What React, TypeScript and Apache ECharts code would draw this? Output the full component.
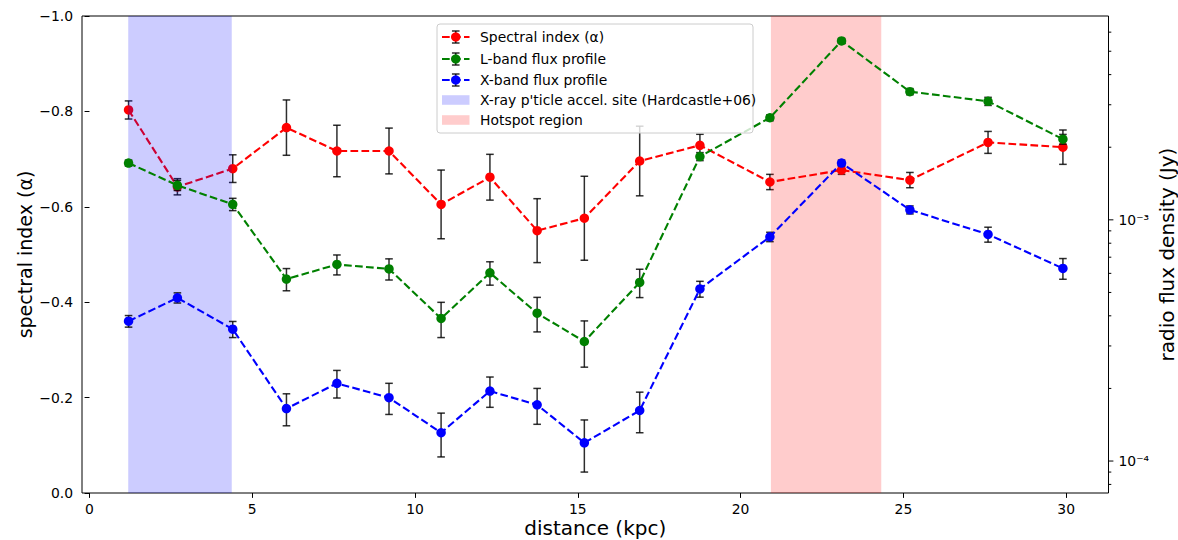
import React, { useEffect, useRef } from 'react';
import * as echarts from 'echarts';

// ---------------- data ----------------
const distance = [1.2, 2.7, 4.4, 6.05, 7.6, 9.2, 10.8, 12.3, 13.75, 15.2, 16.9, 18.75, 20.9, 23.1, 25.2, 27.6, 29.9];

const spectralIndex = [-0.803, -0.642, -0.680, -0.766, -0.717, -0.717, -0.605, -0.662, -0.550, -0.576, -0.696, -0.729, -0.652, -0.677, -0.656, -0.735, -0.725];
const spectralErr = [0.019, 0.017, 0.029, 0.058, 0.054, 0.048, 0.072, 0.048, 0.067, 0.088, 0.073, 0.023, 0.016, 0.009, 0.016, 0.023, 0.036];

const lBandFlux = [1.72e-3, 1.39e-3, 1.16e-3, 5.68e-4, 6.53e-4, 6.26e-4, 3.90e-4, 6.03e-4, 4.10e-4, 3.13e-4, 5.50e-4, 1.83e-3, 2.65e-3, 5.52e-3, 3.40e-3, 3.10e-3, 2.16e-3];
const lBandErr = [4.9e-5, 6.7e-5, 6.8e-5, 6.0e-5, 6.2e-5, 6.3e-5, 6.5e-5, 6.7e-5, 6.7e-5, 6.8e-5, 7.4e-5, 7.0e-5, 7.6e-5, 1.3e-4, 1.0e-4, 1.2e-4, 1.0e-4];

const xBandFlux = [3.80e-4, 4.75e-4, 3.52e-4, 1.65e-4, 2.10e-4, 1.83e-4, 1.31e-4, 1.95e-4, 1.71e-4, 1.19e-4, 1.62e-4, 5.17e-4, 8.50e-4, 1.72e-3, 1.10e-3, 8.70e-4, 6.29e-4];
const xBandErr = [2.1e-5, 2.3e-5, 2.7e-5, 2.5e-5, 2.75e-5, 2.7e-5, 2.7e-5, 2.8e-5, 2.9e-5, 2.9e-5, 3.1e-5, 3.9e-5, 3.8e-5, 4.9e-5, 4.2e-5, 6.2e-5, 6.2e-5];

const bandStart = [1.19, 20.93];
const bandEnd = [4.37, 24.32];

const xTicks = [0, 5, 10, 15, 20, 25, 30];
const fluxMajorTicks = [1e-4, 1e-3];
const fluxMinorTicks = [8e-5, 9e-5, 2e-4, 3e-4, 4e-4, 5e-4, 6e-4, 7e-4, 8e-4, 9e-4, 2e-3, 3e-3, 4e-3, 5e-3, 6e-3];

const legendLabels = [
  'Spectral index (α)',
  'L-band flux profile',
  'X-band flux profile',
  "X-ray p'ticle accel. site (Hardcastle+06)",
  'Hotspot region',
];

// ---------------- styles ----------------
const FONT = 'DejaVu Sans';
const seriesColors = ['#ff0000', '#008000', '#0000ff'];
const bandColors = ['rgba(0,0,255,0.2)', 'rgba(255,0,0,0.2)'];
const ERR_COLOR = 'rgba(0,0,0,0.82)';
const DASH = [7.7, 3.3];
const LINE_W = 2.1;
const MARKER = 9.5;

const SUP: Record<string, string> = { '-': '⁻', '0': '⁰', '1': '¹', '2': '²', '3': '³', '4': '⁴', '5': '⁵', '6': '⁶', '7': '⁷', '8': '⁸', '9': '⁹' };
const toSup = (s: string) => s.split('').map((c) => SUP[c] || c).join('');

function errRender(params: any, api: any) {
  const x = api.value(0);
  const y = api.value(1);
  const e = api.value(2);
  const p1 = api.coord([x, y - e]);
  const p2 = api.coord([x, y + e]);
  const cap = 3.8;
  const style = { stroke: ERR_COLOR, lineWidth: 1.5 };
  return {
    type: 'group',
    children: [
      { type: 'line', shape: { x1: p1[0], y1: p1[1], x2: p2[0], y2: p2[1] }, style },
      { type: 'line', shape: { x1: p1[0] - cap, y1: p1[1], x2: p1[0] + cap, y2: p1[1] }, style },
      { type: 'line', shape: { x1: p2[0] - cap, y1: p2[1], x2: p2[0] + cap, y2: p2[1] }, style },
    ],
  };
}

function tickRender(len: number) {
  return (params: any, api: any) => {
    const p = api.coord([0, api.value(1)]);
    const cs = params.coordSys;
    const x0 = cs.x + cs.width;
    return {
      type: 'line',
      shape: { x1: x0, y1: p[1], x2: x0 + len, y2: p[1] },
      style: { stroke: '#000', lineWidth: 1 },
    };
  };
}

function lineSeries(name: string, ys: number[], color: string, yAxisIndex: number, z: number) {
  return {
    name,
    type: 'line',
    xAxisIndex: 0,
    yAxisIndex,
    z,
    data: distance.map((x, i) => [x, ys[i]]),
    symbol: 'circle',
    symbolSize: MARKER,
    showAllSymbol: true,
    itemStyle: { color },
    lineStyle: { color, width: LINE_W, type: DASH },
    silent: true,
  };
}

function errSeries(ys: number[], es: number[], yAxisIndex: number, z: number) {
  return {
    type: 'custom',
    xAxisIndex: 0,
    yAxisIndex,
    z,
    silent: true,
    encode: { x: 0, y: 1 },
    data: distance.map((x, i) => [x, ys[i], es[i]]),
    renderItem: errRender,
  };
}

// ---------------- legend (graphic) ----------------
const LX = 437;
const LY = 24;
const LW = 316;
const LH = 109;
const rowY = [37, 59, 80, 100, 120];

function legendGraphic() {
  const els: any[] = [
    {
      type: 'rect',
      z: 100,
      shape: { x: LX, y: LY, width: LW, height: LH, r: 3 },
      style: { fill: 'rgba(255,255,255,0.8)', stroke: '#cccccc', lineWidth: 1 },
    },
  ];
  const hx0 = LX + 5;
  const hx1 = LX + 32.5;
  const hm = (hx0 + hx1) / 2;
  for (let i = 0; i < 3; i++) {
    const y = rowY[i];
    const c = seriesColors[i];
    els.push({ type: 'line', z: 101, shape: { x1: hx0, y1: y, x2: hx1, y2: y }, style: { stroke: c, lineWidth: LINE_W, lineDash: DASH } });
    els.push({ type: 'line', z: 101, shape: { x1: hm, y1: y - 6, x2: hm, y2: y + 6 }, style: { stroke: ERR_COLOR, lineWidth: 1.5 } });
    els.push({ type: 'line', z: 101, shape: { x1: hm - 3.8, y1: y - 6, x2: hm + 3.8, y2: y - 6 }, style: { stroke: ERR_COLOR, lineWidth: 1.5 } });
    els.push({ type: 'line', z: 101, shape: { x1: hm - 3.8, y1: y + 6, x2: hm + 3.8, y2: y + 6 }, style: { stroke: ERR_COLOR, lineWidth: 1.5 } });
    els.push({ type: 'circle', z: 102, shape: { cx: hm, cy: y, r: MARKER / 2 }, style: { fill: c } });
  }
  for (let j = 0; j < 2; j++) {
    const y = rowY[3 + j];
    els.push({ type: 'rect', z: 101, shape: { x: hx0, y: y - 4.8, width: hx1 - hx0, height: 9.6 }, style: { fill: bandColors[j] } });
  }
  for (let i = 0; i < legendLabels.length; i++) {
    els.push({
      type: 'text',
      z: 103,
      x: LX + 43,
      y: rowY[i],
      style: { text: legendLabels[i], font: `13.9px "${FONT}"`, fill: '#000', verticalAlign: 'middle', align: 'left' },
    });
  }
  return els;
}

// ---------------- option ----------------
const option: any = {
  animation: false,
  backgroundColor: '#ffffff',
  textStyle: { fontFamily: FONT },
  grid: {
    left: 82,
    right: 69.5,
    top: 16,
    bottom: 47,
    show: true,
    borderColor: '#000',
    borderWidth: 1,
    backgroundColor: 'transparent',
    containLabel: false,
    outerBoundsMode: 'none',
  },
  xAxis: [
    {
      type: 'value',
      min: -0.23,
      max: 31.3,
      name: 'distance (kpc)',
      nameLocation: 'middle',
      nameGap: 24,
      nameMoveOverlap: false,
      nameTextStyle: { fontFamily: FONT, fontSize: 20, color: '#000', lineHeight: 22 },
      axisLine: { show: false },
      splitLine: { show: false },
      axisTick: { show: true, length: 4.9, lineStyle: { color: '#000', width: 1 }, customValues: xTicks },
      axisLabel: { customValues: xTicks, margin: 9, fontFamily: FONT, fontSize: 13.9, color: '#000', formatter: (v: number) => String(v) },
    },
  ],
  yAxis: [
    {
      type: 'value',
      inverse: true,
      min: -1,
      max: 0,
      interval: 0.2,
      position: 'left',
      name: 'spectral index (α)',
      nameLocation: 'middle',
      nameRotate: 90,
      nameGap: 47,
      nameMoveOverlap: false,
      nameTextStyle: { fontFamily: FONT, fontSize: 19, color: '#000', lineHeight: 21 },
      axisLine: { show: false },
      splitLine: { show: false },
      axisTick: { show: true, length: 4.9, lineStyle: { color: '#000', width: 1 } },
      axisLabel: {
        margin: 9,
        fontFamily: FONT,
        fontSize: 13.9,
        color: '#000',
        formatter: (v: number) => (Math.abs(v) < 1e-9 ? '0.0' : '\u2212' + Math.abs(v).toFixed(1)),
      },
    },
    {
      type: 'log',
      logBase: 10,
      min: 7.37e-5,
      max: 7.0e-3,
      position: 'right',
      name: 'radio flux density (Jy)',
      nameLocation: 'middle',
      nameRotate: 90,
      nameGap: 47,
      nameMoveOverlap: false,
      nameTextStyle: { fontFamily: FONT, fontSize: 20, color: '#000', lineHeight: 22 },
      axisLine: { show: false },
      splitLine: { show: false },
      minorTick: { show: false },
      axisTick: { show: false },
      axisLabel: {
        margin: 10,
        fontFamily: FONT,
        fontSize: 13.9,
        color: '#000',
        showMinLabel: false,
        showMaxLabel: false,
        formatter: (v: number) => {
          const e = Math.log10(v);
          if (Math.abs(e - Math.round(e)) > 1e-6) return '';
          return '10' + toSup(String(Math.round(e)));
        },
      },
    },
  ],
  graphic: { elements: legendGraphic() },
  series: [
    errSeries(spectralIndex, spectralErr, 0, 2),
    lineSeries(legendLabels[0], spectralIndex, seriesColors[0], 0, 2),
    {
      type: 'custom',
      xAxisIndex: 0,
      yAxisIndex: 0,
      z: 3,
      silent: true,
      encode: { x: [0, 1], y: 2 },
      data: bandStart.map((s, i) => [s, bandEnd[i], -0.5]),
      renderItem: (params: any, api: any) => {
        const a = api.coord([api.value(0), -0.5]);
        const b = api.coord([api.value(1), -0.5]);
        const cs = params.coordSys;
        return {
          type: 'rect',
          shape: { x: a[0], y: cs.y, width: b[0] - a[0], height: cs.height },
          style: { fill: bandColors[params.dataIndex] },
        };
      },
    },
    errSeries(lBandFlux, lBandErr, 1, 4),
    lineSeries(legendLabels[1], lBandFlux, seriesColors[1], 1, 4),
    errSeries(xBandFlux, xBandErr, 1, 4),
    lineSeries(legendLabels[2], xBandFlux, seriesColors[2], 1, 4),
    {
      type: 'custom',
      xAxisIndex: 0,
      yAxisIndex: 1,
      z: 5,
      silent: true,
      encode: { x: 0, y: 1 },
      data: fluxMinorTicks.map((v) => [0, v]),
      renderItem: tickRender(2.8),
    },
    {
      type: 'custom',
      xAxisIndex: 0,
      yAxisIndex: 1,
      z: 5,
      silent: true,
      encode: { x: 0, y: 1 },
      data: fluxMajorTicks.map((v) => [0, v]),
      renderItem: tickRender(4.9),
    },
  ],
};

export default function App() {
  const ref = useRef<HTMLDivElement>(null);
  useEffect(() => {
    if (!ref.current) return;
    const chart = echarts.init(ref.current, null, { renderer: 'svg' });
    chart.setOption(option);
    return () => chart.dispose();
  }, []);
  return (
    <div
      ref={ref}
      style={{ position: 'fixed', left: 0, top: 0, width: 1178, height: 540, background: '#fff' }}
    />
  );
}
